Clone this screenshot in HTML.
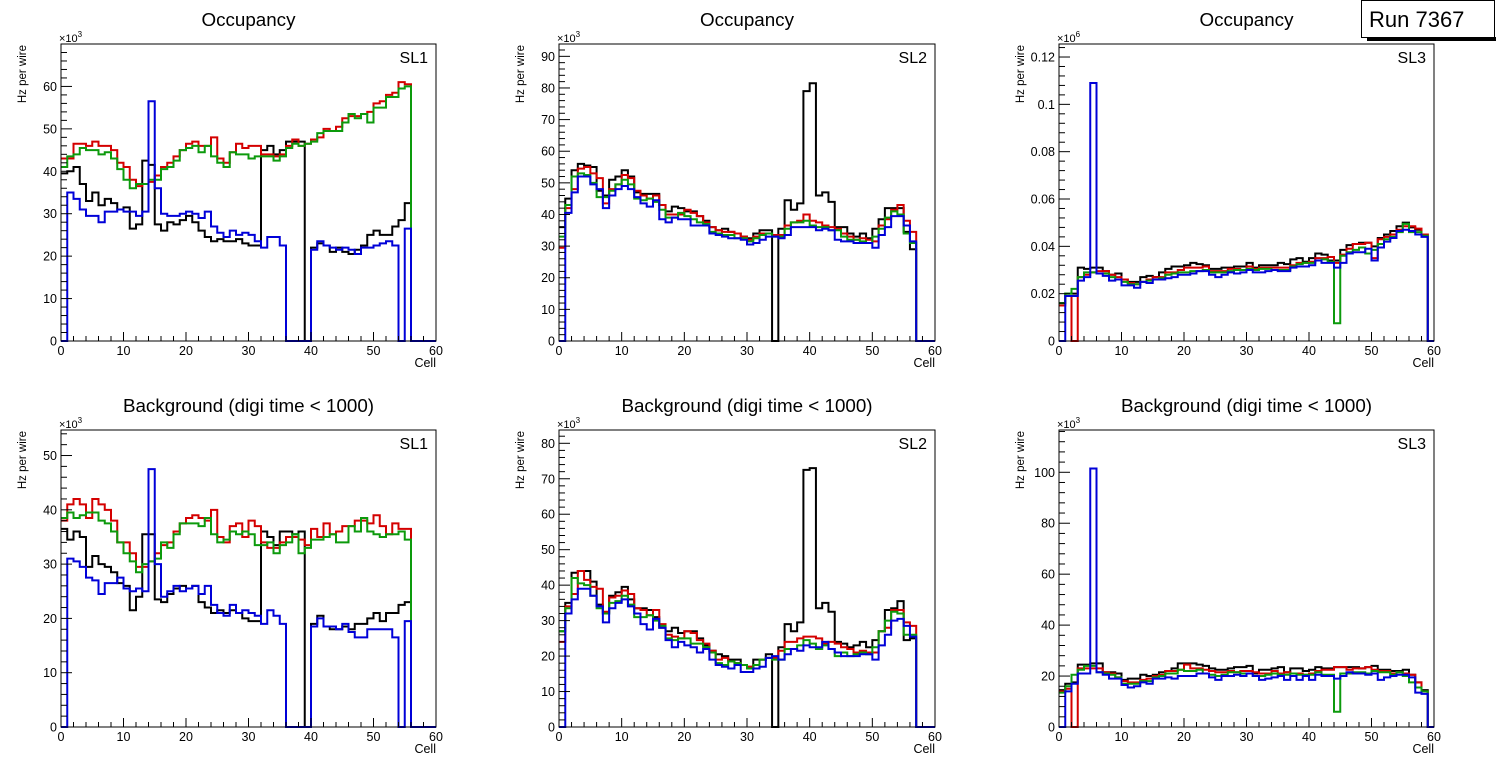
<!DOCTYPE html>
<html><head><meta charset="utf-8"><style>
html,body{margin:0;padding:0;background:#fff;}
svg{display:block;font-family:"Liberation Sans",sans-serif;}
</style></head><body>
<svg id="c" width="1496" height="772" viewBox="0 0 1496 772"></svg>
<script>
// ---- data (bins 0..59) ----
const cells = Array.from({length:60},(_, i)=>i);
const xTicks = [0,10,20,30,40,50,60];

const occSL1Black=[39.5,40,41,37,33,35,32,33.5,32.5,31,31.5,26.5,27.5,42.5,41.5,27.5,26,28,27.5,28.5,29.5,28,26,24.5,23.5,24,23.5,23.5,24,23,22.5,22.5,45,46,44,45,47,47,47,0,22,23,22.5,21,22,21,20.5,21.5,22.5,25,26,25,25,27,28.5,32.5,0,0,0,0];
const occSL1Red=[43,43,46.5,46.5,46,47,46,46,45,42,41,38,36.5,37,37.5,39,41,42,43.5,45,46.5,47,46,46,48,43,42,44.5,46.5,45.5,46,46,44,44,43.5,44,46,47.5,46,46.5,47.5,48,50,49.5,50.5,52.5,53,53,53.5,54,56,56.5,58,58.5,61,60.5,0,0,0,0];
const occSL1Green=[41,43.5,44,45.5,45,45,44,44.5,43,40.5,38,36,37,37,38,38,40.5,41,42.5,45,45.5,46,44.5,46,43.5,42,41,44.5,44,44,43,43.5,43.5,43.5,42.5,43.5,45.5,46.5,46,46.5,47,49,49.5,49.5,49.5,51.5,53.5,52.5,53.5,51.5,55,55,57.5,57.5,59.5,60,0,0,0,0];
const occSL1Blue=[0,35,33.5,31,29.5,29.5,28,30.5,30.5,31,30.5,30.5,29.5,30.5,56.5,36,30,29.5,29.5,30,30.5,30,29,30.5,27,25.5,24.5,26,25,25.5,25,23.5,22,24.5,24.5,22.5,0,0,0,0,21.5,23.5,22.5,22,21.5,22,21.5,20.5,22,22,22.5,23,23.5,22.5,0,26.5,0,0,0,0];

const occSL2Black=[36,45,54,56,55.5,55,47.5,46,51,52,54,52,47,46.5,46.5,46.5,43,41,42.5,42,41,41,39.5,38,36,35,35.5,34.5,34,33,32.5,34,35,35,0,35.5,44.5,41.5,43.5,79,81.5,46,47,44,36,36,34,33,34,32.5,35.5,38.5,42,42,42,34.5,29,0,0,0];
const occSL2Red=[29.5,42,48,54.5,55,53,51.5,43.5,48,49.5,52.5,51.5,47.5,46,45,46,43,40,40,40,41.5,40.5,39.5,37.5,36,35,34.5,34.5,34,33,32,33,34,34,33.5,33.5,36.5,37.5,38,40,38,37.5,36.5,36,35.5,34,33,32,32.5,32,31.5,36.5,38.5,41.5,43,38,34.5,0,0,0];
const occSL2Green=[33,43,52,53,52.5,50,45.5,45.5,47.5,49.5,51,49.5,45,44.5,45,44,41.5,39,39,40.5,39.5,38.5,37.5,37,34.5,34,33.5,33.5,32.5,32.5,31.5,32.5,33.5,34,33,33,35.5,37.5,37.5,38,36.5,36,36,35,35,33,32,32,31.5,31,33,35.5,39,41,40,34,31,0,0,0];
const occSL2Blue=[0,40.5,47,52,52,49.5,48,42,46,48,49,48,45.5,43.5,42.5,44.5,38.5,37.5,39,38.5,38.5,36.5,36.5,36.5,34,33.5,33,32.5,32.5,32,30.5,31,32,33,33,32.5,33.5,36,36,36,36,35,35.5,35,32,31.5,31.5,31,31,31,29.5,33.5,36,39.5,39.5,36.5,31.5,0,0,0];

const occSL3Black=[0.016,0.02,0.02,0.031,0.0305,0.031,0.031,0.0295,0.028,0.0285,0.026,0.025,0.025,0.027,0.0275,0.027,0.029,0.0305,0.0315,0.0315,0.032,0.033,0.0325,0.032,0.0305,0.0305,0.031,0.031,0.0315,0.0315,0.033,0.031,0.032,0.032,0.032,0.033,0.0325,0.0345,0.035,0.0335,0.035,0.037,0.0365,0.034,0.034,0.0385,0.0405,0.041,0.0415,0.0415,0.04,0.0435,0.045,0.0465,0.0485,0.05,0.048,0.047,0.045,0];
const occSL3Red=[0.015,0.019,0,0.027,0.028,0.029,0.0295,0.0295,0.028,0.027,0.026,0.0245,0.024,0.025,0.026,0.027,0.027,0.029,0.029,0.03,0.031,0.031,0.031,0.0315,0.0295,0.0295,0.0295,0.0305,0.0305,0.03,0.0315,0.0305,0.031,0.031,0.031,0.031,0.031,0.032,0.033,0.033,0.0335,0.035,0.035,0.0355,0.033,0.0365,0.039,0.041,0.041,0.0415,0.035,0.043,0.044,0.045,0.047,0.0485,0.0485,0.0475,0.045,0];
const occSL3Green=[0.016,0.02,0.022,0.027,0.029,0.029,0.0285,0.0285,0.027,0.026,0.025,0.024,0.024,0.025,0.0255,0.026,0.0265,0.028,0.0285,0.029,0.029,0.0295,0.0295,0.03,0.029,0.029,0.029,0.0295,0.03,0.03,0.0305,0.03,0.0305,0.0305,0.03,0.03,0.03,0.0315,0.0325,0.033,0.033,0.034,0.0345,0.0335,0.0075,0.036,0.0375,0.0385,0.0395,0.037,0.0385,0.041,0.043,0.044,0.046,0.0495,0.046,0.046,0.0445,0];
const occSL3Blue=[0,0.019,0.019,0.0255,0.027,0.109,0.0285,0.0275,0.0255,0.026,0.0235,0.0235,0.0225,0.025,0.0245,0.026,0.026,0.0265,0.027,0.028,0.028,0.0285,0.0295,0.0295,0.028,0.027,0.028,0.029,0.0285,0.029,0.03,0.029,0.029,0.0295,0.03,0.0295,0.0295,0.031,0.0315,0.0315,0.032,0.034,0.033,0.033,0.031,0.033,0.037,0.0375,0.0375,0.039,0.034,0.0395,0.042,0.0435,0.0465,0.047,0.0465,0.045,0.044,0];

const bkgSL1Black=[36.5,34.5,36,35,29.5,31.5,30,29.5,28.5,26.5,26,21.5,24,35.5,35.5,23.5,23,24.5,25.5,26,25.5,26,23,22,21,21.5,21,21.5,21,20,19.5,19.5,36,35,33.5,36,36,35.5,36,0,19,20.5,18.5,18,18,18.5,18,19,19,20,21,19.5,21,21,22.5,23,0,0,0,0];
const bkgSL1Red=[38,41,42,41,38.5,42,41,40,38,34,34,32,29.5,29.5,30.5,32,33.5,34,36,37.5,38.5,39,38.5,38,40,35,34,37,37.5,35,38,37,34,33,33,34,35,35,34.5,33.5,36.5,35,37.5,35.5,36,37,37,38,38,37.5,39,37,35.5,37.5,36.5,36.5,0,0,0,0];
const bkgSL1Green=[38.5,39.5,38.5,39,39.5,39.5,38,37.5,36,34,32,30.5,28.5,30,30.5,31,34,33,35.5,37.5,37.5,37.5,37,38.5,35.5,34,34.5,36,35.5,36,35.5,33.5,33.5,34,32,33.5,34,35.5,32,33,34.5,34.5,35,35.5,34,34,37,36,38.5,36,35.5,35,35.5,35.5,36,34.5,0,0,0,0];
const bkgSL1Blue=[0,31,30.5,29.5,27.5,27,24.5,26.5,26.5,27.5,25.5,25,25.5,25,47.5,30,24,25,26,25,25.5,26,24.5,26,22.5,21,20.5,22.5,21,21.5,21,20.5,19,21.5,20.5,19,0,0,0,0,18.5,20,18.5,18.5,18,19,17.5,16.5,16.5,18,18,18,18,16.5,0,19.5,0,0,0,0];

const bkgSL2Black=[27,35,43.5,44,44,41,34.5,32,37,38,39.5,36,33.5,33.5,33,31,28,27,28,26.5,27,27,25,23,21.5,20.5,20,19,19,17.5,17,19,19,20.5,0,22.5,29,27,29.5,72.5,73,33.5,35,32.5,24,23.5,22.5,23,24,22.5,24.5,27,33,33.5,35.5,24.5,25,0,0,0];
const bkgSL2Red=[24,34,37.5,44,41.5,39.5,39,32.5,36.5,37,38.5,37.5,33.5,33,31.5,33,29,26,25.5,25,27,26.5,24.5,23.5,21.5,19,19.5,18.5,18,17.5,17,17.5,19,19.5,19.5,21.5,24,24,25,25.5,25.5,25,23.5,24,23.5,22.5,22,21,21.5,21,21,27,28,33,33,29.5,28.5,0,0,0];
const bkgSL2Green=[27,33.5,42,40.5,40,37,33.5,32,35,35.5,37,34.5,31,31,31.5,30,28.5,25,24.5,25,25,23.5,23.5,22.5,21,18,17.5,18.5,18,17.5,16.5,17.5,19,19.5,19,19,22,22,23,24.5,23.5,22,23,22,20,21,20,20.5,21,20.5,22.5,27,30,32.5,32,26,26,0,0,0];
const bkgSL2Blue=[0,32,36,39,39,37,34,29.5,33.5,35,36,34,32,29,27.5,30.5,28,24.5,22.5,24,23,22.5,21,22,19,17.5,17,16.5,17.5,15.5,15.5,16.5,17,19.5,20,19,20.5,22,21.5,23,22.5,22.5,24,22,21,20,20,20,20.5,20.5,19,23,26,30,30.5,28.5,25.5,0,0,0];

const bkgSL3Black=[14.5,17,17.5,24.5,24.5,25,25,21.5,21.5,21,18.5,19,19,20.5,20,20.5,21.5,22,23,25,25,25,24.5,24,23,22.5,22.5,23,23.5,23.5,24,21,22.5,22.5,23,23.5,21.5,23,23,22,22.5,23.5,23,23,23.5,23.5,23.5,23.5,23,23.5,24,22.5,22.5,22,22,22.5,20.5,17.5,14.5,0];
const bkgSL3Red=[14,15,0,23,23,23,23,21.5,21,19.5,18,17.5,17.5,18.5,19,20,20.5,22,22,22.5,24.5,23,23,22.5,22,21.5,21.5,22,21.5,22,22,21.5,21,21,22,21,21.5,21,21,20.5,21,22,22.5,22.5,23.5,23.5,22.5,23,23,23.5,22.5,22,22,21,21.5,21,20.5,17.5,14,0];
const bkgSL3Green=[13.5,16,20.5,22.5,24,24,21.5,21,20.5,19.5,17,17,17,18,18,19.5,20,21,21,22.5,22,22,22.5,21,20.5,20,20.5,21.5,21.5,21,21,20,20,20.5,21,20.5,20.5,21,20.5,20.5,20.5,21.5,20.5,20.5,6,21,21,21.5,21.5,21,22,21.5,21.5,20.5,21.5,20,17.5,15.5,14,0];
const bkgSL3Blue=[0,14,17,21,21,101.5,21.5,20.5,19,19,16.5,15.5,16,17.5,17,19,19,19.5,19,20,20,20,21,21,19.5,18.5,20,20,20.5,20,21,20,18.5,19,19.5,20,18.5,20,18.5,20,18.5,20.5,20,20,19,20,21.5,21,21,20.5,21,18.5,19.5,20,20.5,20.5,19.5,13.5,13,0];

const occTicks1=[0,10,20,30,40,50,60];
const occTicks2=[0,10,20,30,40,50,60,70,80,90];
const occTicks3=[0,0.02,0.04,0.06,0.08,0.1,0.12];
const bkgTicks1=[0,10,20,30,40,50];
const bkgTicks2=[0,10,20,30,40,50,60,70,80];
const bkgTicks3=[0,20,40,60,80,100];

const colors={black:"#000000",red:"#d40000",green:"#0c9a0c",blue:"#0000d8"};

const panels=[
 {name:"occ-sl1",x0:61,x1:436,y0:44,y1:341,ymax:70,ticks:occTicks1,minor:2,exp:"3",title:"Occupancy",sl:"SL1",series:[occSL1Black,occSL1Red,occSL1Green,occSL1Blue]},
 {name:"occ-sl2",x0:559,x1:935,y0:44,y1:341,ymax:93.9,ticks:occTicks2,minor:2,exp:"3",title:"Occupancy",sl:"SL2",series:[occSL2Black,occSL2Red,occSL2Green,occSL2Blue]},
 {name:"occ-sl3",x0:1059,x1:1434,y0:44,y1:341,ymax:0.1255,ticks:occTicks3,minor:0.004,exp:"6",title:"Occupancy",sl:"SL3",series:[occSL3Black,occSL3Red,occSL3Green,occSL3Blue]},
 {name:"bkg-sl1",x0:61,x1:436,y0:430,y1:727,ymax:54.7,ticks:bkgTicks1,minor:2,exp:"3",title:"Background (digi time < 1000)",sl:"SL1",series:[bkgSL1Black,bkgSL1Red,bkgSL1Green,bkgSL1Blue]},
 {name:"bkg-sl2",x0:559,x1:935,y0:430,y1:727,ymax:83.75,ticks:bkgTicks2,minor:2,exp:"3",title:"Background (digi time < 1000)",sl:"SL2",series:[bkgSL2Black,bkgSL2Red,bkgSL2Green,bkgSL2Blue]},
 {name:"bkg-sl3",x0:1059,x1:1434,y0:430,y1:727,ymax:116.6,ticks:bkgTicks3,minor:4,exp:"3",title:"Background (digi time < 1000)",sl:"SL3",series:[bkgSL3Black,bkgSL3Red,bkgSL3Green,bkgSL3Blue]}
];
const seriesNames=["black","red","green","blue"];

const svg=document.getElementById('c');
const NS="http://www.w3.org/2000/svg";
function mk(tag,attrs,parent){const e=document.createElementNS(NS,tag);for(const k in attrs)e.setAttribute(k,attrs[k]);(parent||svg).appendChild(e);return e;}
function fmt(v){return String(Math.round(v*1000)/1000);}

panels.forEach(p=>{
  const g=mk('g',{});
  
  
  const xs=v=>p.x0+(v/60)*(p.x1-p.x0);
  const ys=v=>p.y1-(v/p.ymax)*(p.y1-p.y0);
  const cx=(p.x0+p.x1)/2;
  const t=mk('text',{x:cx,y:p.y0-18,'text-anchor':'middle','font-size':18.8},g);t.textContent=p.title;
  
  
  p.series.forEach((vals,si)=>{
    let d="M"+xs(0)+","+ys(vals[0]);
    for(let i=0;i<cells.length;i++){
      d+=" H"+xs(cells[i]+1);
      if(i+1<cells.length)d+=" V"+ys(vals[i+1]);
    }
    const path=mk('path',{d:d,fill:'none',stroke:colors[seriesNames[si]],'stroke-width':2},g);
    
    
  });
  const fr=mk('rect',{x:p.x0,y:p.y0,width:p.x1-p.x0,height:p.y1-p.y0,fill:'none',stroke:'#000','stroke-width':1},g);
  
  
  for(let v=0;v<=60;v+=2){
    const maj=v%10===0;
    mk('line',{x1:xs(v),x2:xs(v),y1:p.y1,y2:p.y1-(maj?9:5),stroke:'#000','stroke-width':1},g);
  }
  xTicks.forEach(v=>{
    const tl=mk('text',{x:xs(v),y:p.y1+14,'text-anchor':'middle','font-size':12.5},g);tl.textContent=v;
    
    
  });
  const nMinor=Math.floor(p.ymax/p.minor+1e-6);
  for(let k=0;k<=nMinor;k++){
    const v=k*p.minor;
    const maj=k%5===0;
    mk('line',{x1:p.x0,x2:p.x0+(maj?11:6),y1:ys(v),y2:ys(v),stroke:'#000','stroke-width':1},g);
  }
  p.ticks.forEach(v=>{
    const tl=mk('text',{x:p.x0-4,y:ys(v)+4.5,'text-anchor':'end','font-size':12.5},g);tl.textContent=fmt(v);
    
    
  });
  const ex=mk('text',{x:p.x0-2,y:p.y0-2,'font-size':11},g);
  ex.innerHTML='×10<tspan dy="-5" font-size="8">'+p.exp+'</tspan>';
  
  
  const yl=mk('text',{x:0,y:0,'text-anchor':'end','font-size':11.5,transform:'translate('+(p.x0-35)+','+(p.y0+1)+') rotate(-90)'},g);yl.textContent='Hz per wire';
  
  
  const xl=mk('text',{x:p.x1,y:p.y1+26,'text-anchor':'end','font-size':12.5},g);xl.textContent='Cell';
  
  
  const sl=mk('text',{x:p.x1-8,y:p.y0+19,'text-anchor':'end','font-size':16},g);sl.textContent=p.sl;
  
  
});
const rb=mk('g',{});


mk('rect',{x:1367,y:37,width:129,height:4,fill:'#000'},rb);
mk('rect',{x:1361.5,y:0.5,width:133,height:37,fill:'#fff',stroke:'#000','stroke-width':1},rb);
const rt=mk('text',{x:1369,y:27,'font-size':22},rb);rt.textContent='Run 7367';


</script>
</body></html>
